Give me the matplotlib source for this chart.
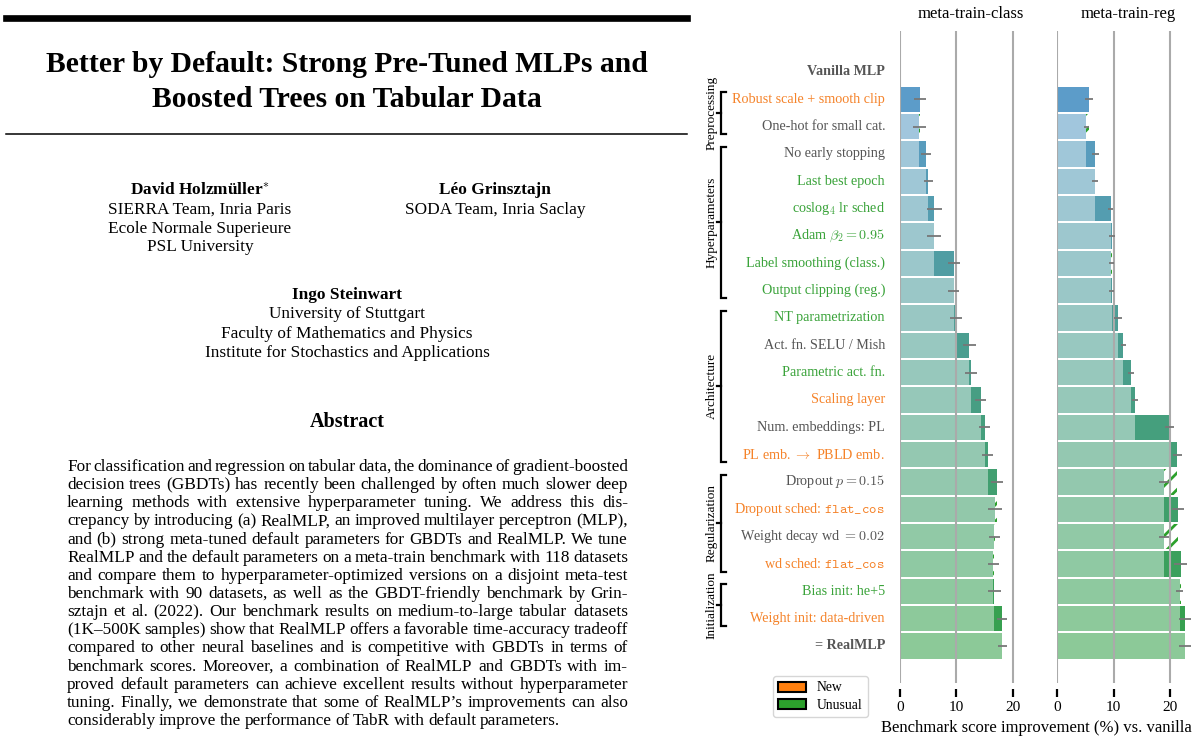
import numpy as np
import matplotlib
matplotlib.use("Agg")
import matplotlib.pyplot as plt
from matplotlib.patches import Patch
from matplotlib.transforms import blended_transform_factory

plt.rcParams['font.family'] = ['Liberation Serif', 'DejaVu Serif']
plt.rcParams['mathtext.fontset'] = 'cm'
plt.rcParams['hatch.linewidth'] = 2.0

W, H = 1200, 749

# ---- chart data ----
labels = ["Vanilla MLP", "Robust scale + smooth clip", "One-hot for small cat.",
          "No early stopping", "Last best epoch", r"coslog$_4$ lr sched",
          r"Adam $\beta_2 = 0.95$", "Label smoothing (class.)", "Output clipping (reg.)",
          "NT parametrization", "Act. fn. SELU / Mish", "Parametric act. fn.",
          "Scaling layer", "Num. embeddings: PL", r"PL emb. $\rightarrow$ PBLD emb.",
          r"Dropout $p = 0.15$", r"Dropout sched: $\mathtt{flat\_cos}$",
          r"Weight decay wd $=0.02$", r"wd sched: $\mathtt{flat\_cos}$",
          "Bias init: he+5", "Weight init: data-driven", "= RealMLP"]
kinds = ["base", "new", "plain", "plain", "unusual", "unusual", "unusual", "unusual",
         "unusual", "unusual", "plain", "unusual", "new", "plain", "new", "plain",
         "new", "plain", "new", "unusual", "new", "base"]

class_vals = [0, 3.6, 3.45, 4.7, 5.05, 6.1, 6.0, 9.6, 9.55, 9.9, 12.3, 12.6, 14.3,
              15.0, 15.5, 17.2, 16.8, 16.7, 16.5, 16.7, 18.05, 18.05]
class_err = [0, 1.1, 1.1, 0.9, 0.8, 1.3, 1.2, 1.0, 0.95, 1.1, 1.1, 1.1, 0.95, 1.0,
             1.0, 1.1, 1.3, 1.0, 1.0, 1.1, 0.9, 0.8]
reg_vals = [0, 5.65, 5.2, 6.75, 6.7, 9.5, 9.65, 9.55, 9.65, 10.75, 11.7, 13.0, 13.75,
            19.9, 21.2, 18.9, 21.35, 18.9, 21.8, 21.65, 22.6, 22.6]
reg_err = [0, 0.75, 0.5, 0.6, 0.6, 0.45, 0.5, 0.45, 0.45, 0.65, 0.5, 0.5, 0.6, 0.8,
           0.75, 0.9, 1.0, 0.9, 1.2, 0.6, 1.1, 1.1]

groups = [("Preprocessing", 1, 2), ("Hyperparameters", 3, 8), ("Architecture", 9, 14),
          ("Regularization", 15, 18), ("Initialization", 19, 20)]

# ---- paper text ----
title_lines = ["Better by Default: Strong Pre-Tuned MLPs and",
               "Boosted Trees on Tabular Data"]
author1 = ["SIERRA Team, Inria Paris", "Ecole Normale Superieure", "PSL University"]
author2 = ["SODA Team, Inria Saclay"]
author3 = ["University of Stuttgart", "Faculty of Mathematics and Physics",
           "Institute for Stochastics and Applications"]
abstract_lines = [
    "For classification and regression on tabular data, the dominance of gradient-boosted",
    "decision trees (GBDTs) has recently been challenged by often much slower deep",
    "learning methods with extensive hyperparameter tuning.  We address this dis-",
    "crepancy by introducing (a) RealMLP, an improved multilayer perceptron (MLP),",
    "and (b) strong meta-tuned default parameters for GBDTs and RealMLP. We tune",
    "RealMLP and the default parameters on a meta-train benchmark with 118 datasets",
    "and compare them to hyperparameter-optimized versions on a disjoint meta-test",
    "benchmark with 90 datasets, as well as the GBDT-friendly benchmark by Grin-",
    "sztajn et al. (2022). Our benchmark results on medium-to-large tabular datasets",
    "(1K\u2013500K samples) show that RealMLP offers a favorable time-accuracy tradeoff",
    "compared to other neural baselines and is competitive with GBDTs in terms of",
    "benchmark scores. Moreover, a combination of RealMLP and GBDTs with im-",
    "proved default parameters can achieve excellent results without hyperparameter",
    "tuning. Finally, we demonstrate that some of RealMLP\u2019s improvements can also",
    "considerably improve the performance of TabR with default parameters.",
]

orange = '#f5832a'
green = '#3aa33a'
grey = '#555555'
hatch_green = '#2ca02c'
text_col = {"base": grey, "plain": grey, "new": orange, "unusual": green}

n = len(labels)
c0 = np.array([0.36, 0.61, 0.79])
c1 = np.array([0.21, 0.63, 0.29])
t = np.linspace(0, 1, n - 1)
dark_cols = [c0] + [c0 + (c1 - c0) * ti for ti in t]
light_cols = [0.57 * c + 0.43 for c in dark_cols]


def px(x, y):
    return x / W, 1 - y / H


fig = plt.figure(figsize=(12, 7.49), dpi=100)

ax_bottom = 1 - 683.3 / H
ax_height = (683.3 - 31) / H
ax1 = fig.add_axes([899.7 / W, ax_bottom, 141.8 / W, ax_height])
ax2 = fig.add_axes([1057 / W, ax_bottom, 141.8 / W, ax_height])


def draw_panel(ax, vals, errs, title):
    for i in range(1, n):
        prev, cur = vals[i - 1], vals[i]
        ax.barh(i, min(prev, cur), height=0.93, color=light_cols[i], lw=0, zorder=2)
        if cur > prev:
            ax.barh(i, cur - prev, left=prev, height=0.93, color=dark_cols[i], lw=0, zorder=2)
        elif cur < prev:
            ax.barh(i, prev - cur, left=cur, height=0.93, facecolor='white',
                    edgecolor=hatch_green, hatch='//', lw=0, zorder=2)
        ax.errorbar(cur, i, xerr=errs[i], color='#777777', lw=1.3, capsize=0, zorder=6)
    for g in [0, 10, 20]:
        ax.axvline(g, color='#aaaaaa', lw=1.5, zorder=5)
    ax.set_xlim(0, 25)
    ax.set_ylim(22.37, -1.5)
    ax.set_yticks([])
    ax.set_xticks([0, 10, 20])
    for s in ['top', 'right', 'left']:
        ax.spines[s].set_visible(False)
    ax.spines['bottom'].set_position(('outward', 4.3))
    ax.spines['bottom'].set_visible(False)
    ax.tick_params(axis='x', length=5.7, width=1.6, color='black', pad=3, labelsize=11)
    ax.set_facecolor('none')
    ax.set_title(title, fontsize=12, pad=9)


draw_panel(ax1, class_vals, class_err, "meta-train-class")
draw_panel(ax2, reg_vals, reg_err, "meta-train-reg")

trans = blended_transform_factory(fig.transFigure, ax1.transData)
for i, (lab, k) in enumerate(zip(labels, kinds)):
    ax1.text(885 / W, i, lab, transform=trans, ha='right', va='center', fontsize=10.2,
             color=text_col[k], fontweight='bold' if k == "base" else 'normal',
             clip_on=False)

xl, xh, xm = 721 / W, 726 / W, 716.5 / W
for name, a, b in groups:
    y0, y1 = a - 0.27, b + 0.28
    ym = (y0 + y1) / 2
    ax1.plot([xh, xl, xl, xh], [y0, y0, y1, y1], transform=trans, color='black',
             lw=1.6, clip_on=False, solid_joinstyle='miter')
    ax1.plot([xl, xm], [ym, ym], transform=trans, color='black', lw=1.6, clip_on=False)
    ax1.text(711.5 / W, ym, name, transform=trans, rotation=90, ha='center',
             va='center', fontsize=9.5, color='black', clip_on=False)

fig.text(*px(1036, 728), "Benchmark score improvement (%) vs. vanilla", ha='center',
         va='center', fontsize=12)

handles = [Patch(facecolor='#ff7f0e', edgecolor='black', lw=1.5, label='New'),
           Patch(facecolor='#2ca02c', edgecolor='black', lw=1.5, label='Unusual')]
fig.legend(handles=handles, loc='upper left', bbox_to_anchor=px(773, 676),
           fontsize=9.8, frameon=True, borderaxespad=0, handlelength=2.0,
           handleheight=0.8, labelspacing=0.3, fancybox=True, edgecolor='#cccccc')

# ---- paper page ----
fig.add_artist(plt.Line2D([6 / W, 687 / W], [1 - 17.7 / H] * 2, color='black', lw=4.8))
fig.add_artist(plt.Line2D([6 / W, 687 / W], [1 - 134 / H] * 2, color='black', lw=1.1))
fig.text(*px(347, 71.7), title_lines[0], ha='center', va='baseline', fontsize=21.3,
         fontweight='bold')
fig.text(*px(347, 106.7), title_lines[1], ha='center', va='baseline', fontsize=21.3,
         fontweight='bold')

fig.text(*px(200, 190), r"David Holzmüller$^{*}$", ha='center', va='center',
         fontsize=12.4, fontweight='bold')
for k, line in enumerate(author1):
    fig.text(*px(200, 210 + 18.7 * k), line, ha='center', va='center', fontsize=12.4)
fig.text(*px(495, 190), "Léo Grinsztajn", ha='center', va='center', fontsize=12.4,
         fontweight='bold')
for k, line in enumerate(author2):
    fig.text(*px(495, 210 + 18.7 * k), line, ha='center', va='center', fontsize=12.4)
fig.text(*px(347, 295), "Ingo Steinwart", ha='center', va='center', fontsize=12.4,
         fontweight='bold')
for k, line in enumerate(author3):
    fig.text(*px(347, 314 + 19.5 * k), line, ha='center', va='center', fontsize=12.4)

fig.text(*px(347, 422), "Abstract", ha='center', va='center', fontsize=14.5,
         fontweight='bold')

renderer = fig.canvas.get_renderer()
x0, x1 = 67, 628
for k, line in enumerate(abstract_lines):
    y = 467 + 18.14 * k
    words = line.split()
    texts = [fig.text(0, 1 - y / H, w, ha='left', va='center', fontsize=12.4) for w in words]
    widths = [tx.get_window_extent(renderer).width for tx in texts]
    if k == len(abstract_lines) - 1:
        gap = 3.6
    else:
        gap = (x1 - x0 - sum(widths)) / (len(words) - 1)
    x = x0
    for tx, w in zip(texts, widths):
        tx.set_x(x / W)
        x += w + gap

fig.savefig("out.png", dpi=100)
